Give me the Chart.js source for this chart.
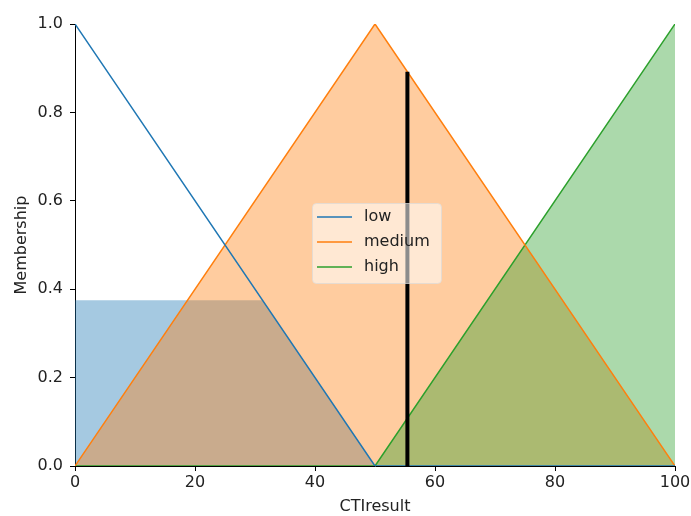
<!DOCTYPE html>
<html>
<head>
<meta charset="utf-8">
<script src="https://cdn.jsdelivr.net/npm/chart.js@4.4.1/dist/chart.umd.min.js"></script>
<style>
  html, body { margin: 0; padding: 0; background: #fff; }
  #wrap { width: 691px; height: 516px; }
</style>
</head>
<body>
<div id="wrap"><canvas id="fuzzyChart" width="691" height="516"></canvas></div>
<script>
// universo y funciones de pertenencia (trimf)
const universe = [0, 50, 100];
const lowVals = [1, 0, 0];
const mediumVals = [0, 1, 0];
const highVals = [0, 0, 1];

// zona activada de "low" (recortada)
const lowCutX = [0, 31.25, 50, 100];
const lowCutY = [0.375, 0.375, 0, 0];

// salida defuzzificada
const crispX = [55.4, 55.4];
const crispY = [0, 0.892];

const xTicks = [0, 20, 40, 60, 80, 100];
const yTicks = [0, 0.2, 0.4, 0.6, 0.8, 1.0];

const C = {
    low: '#1f77b4',
    medium: '#ff7f0e',
    high: '#2ca02c'
};
const alpha = (hex, a) => {
    const n = parseInt(hex.slice(1), 16);
    return `rgba(${(n >> 16) & 255},${(n >> 8) & 255},${n & 255},${a})`;
};
const pts = (xs, ys) => xs.map((x, i) => ({ x, y: ys[i] }));

const FONT = { family: 'DejaVu Sans', size: 16 };

// leyenda dibujada dentro del area, como matplotlib
const innerLegend = {
    id: 'innerLegend',
    afterDraw(chart) {
        const ctx = chart.ctx;
        const a = chart.chartArea;
        const items = chart.data.datasets.filter(d => d.showInLegend);
        const x0 = a.left + 237, y0 = a.top + 179, w = 129, h = 80, r = 4;
        ctx.save();
        ctx.beginPath();
        ctx.roundRect(x0 + 0.5, y0 + 0.5, w, h, r);
        ctx.fillStyle = 'rgba(255,255,255,0.55)';
        ctx.fill();
        ctx.strokeStyle = 'rgba(220,220,220,0.7)';
        ctx.lineWidth = 1;
        ctx.stroke();
        ctx.font = `${FONT.size}px ${FONT.family}`;
        ctx.textBaseline = 'middle';
        ctx.fillStyle = '#222';
        items.forEach((d, i) => {
            const yy = y0 + 14 + i * 25;
            ctx.beginPath();
            ctx.moveTo(x0 + 5, yy);
            ctx.lineTo(x0 + 40, yy);
            ctx.strokeStyle = d.borderColor;
            ctx.lineWidth = d.borderWidth;
            ctx.stroke();
            ctx.fillText(d.label, x0 + 52, yy);
        });
        ctx.restore();
    }
};

new Chart(document.getElementById('fuzzyChart'), {
    type: 'scatter',
    data: {
        datasets: [
            { label: 'crisp', data: pts(crispX, crispY), showLine: true, borderColor: '#000', borderWidth: 4, pointRadius: 0, order: 0 },
            { label: 'low', showInLegend: true, data: pts(universe, lowVals), showLine: true, borderColor: C.low, borderWidth: 1.5, pointRadius: 0, order: 1 },
            { label: 'medium', showInLegend: true, data: pts(universe, mediumVals), showLine: true, borderColor: C.medium, borderWidth: 1.5, pointRadius: 0, order: 2 },
            { label: 'high', showInLegend: true, data: pts(universe, highVals), showLine: true, borderColor: C.high, borderWidth: 1.5, pointRadius: 0, order: 3 },
            { label: 'high fill', data: pts(universe, highVals), showLine: true, borderWidth: 0, borderColor: 'transparent', pointRadius: 0, fill: 'origin', backgroundColor: alpha(C.high, 0.4), order: 4 },
            { label: 'medium fill', data: pts(universe, mediumVals), showLine: true, borderWidth: 0, borderColor: 'transparent', pointRadius: 0, fill: 'origin', backgroundColor: alpha(C.medium, 0.4), order: 5 },
            { label: 'low fill', data: pts(lowCutX, lowCutY), showLine: true, borderWidth: 0, borderColor: 'transparent', pointRadius: 0, fill: 'origin', backgroundColor: alpha(C.low, 0.4), order: 6 }
        ]
    },
    options: {
        responsive: false,
        animation: false,
        layout: { padding: { top: 24, right: 16, left: 0, bottom: 0 } },
        plugins: { legend: { display: false }, tooltip: { enabled: false } },
        scales: {
            x: {
                type: 'linear', min: 0, max: 100,
                afterBuildTicks: s => { s.ticks = xTicks.map(v => ({ value: v })); },
                afterFit: s => { s.height = 50; s.paddingLeft = 0; s.paddingRight = 0; },
                ticks: { color: '#222', font: FONT, padding: 2, maxRotation: 0 },
                grid: { drawOnChartArea: false, drawTicks: true, tickLength: 5, color: '#000' },
                border: { color: '#000', width: 1 },
                title: { display: true, text: 'CTIresult', color: '#222', font: FONT, padding: { top: 0, bottom: 0 } }
            },
            y: {
                type: 'linear', min: 0, max: 1,
                afterBuildTicks: s => { s.ticks = yTicks.map(v => ({ value: v })); },
                afterFit: s => { s.width = 75; s.paddingTop = 0; s.paddingBottom = 0; },
                ticks: { color: '#222', font: FONT, padding: 7, callback: v => v.toFixed(1) },
                grid: { drawOnChartArea: false, drawTicks: true, tickLength: 5, color: '#000' },
                border: { color: '#000', width: 1 },
                title: { display: true, text: 'Membership', color: '#222', font: FONT, padding: { top: 12, bottom: 0 } }
            }
        }
    },
    plugins: [innerLegend]
});
</script>
</body>
</html>
